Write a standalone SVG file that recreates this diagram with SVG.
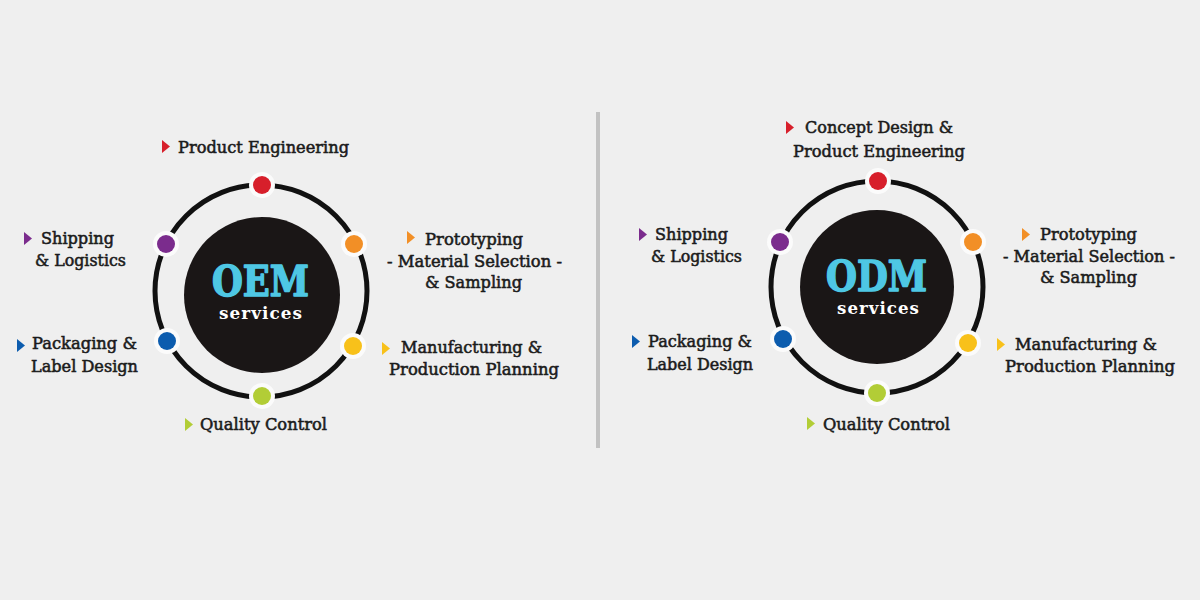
<svg xmlns="http://www.w3.org/2000/svg" width="1200" height="600" viewBox="0 0 1200 600">
<style>
.lbl{font-family:"DejaVu Serif","Liberation Serif",serif;font-size:16.5px;fill:#1b1b1b;stroke:#1b1b1b;stroke-width:0.55px;}
.ttl{font-family:"DejaVu Serif","Liberation Serif",serif;font-weight:bold;font-size:43px;fill:#4ec7e4;stroke:#4ec7e4;stroke-width:1.6px;stroke-linejoin:round;}
.sub{font-family:"DejaVu Serif","Liberation Serif",serif;font-weight:bold;font-size:16px;fill:#ffffff;letter-spacing:1px;}
.ring{fill:none;stroke:#111;stroke-width:5;}
.core{fill:#1a1616;}
.halo{fill:#fbfbfb;}
</style>
<rect width="1200" height="600" fill="#efefef"/>
<g id="connectors">
<line x1="598" y1="112" x2="598" y2="448" stroke="#c2c2c2" stroke-width="4"/>
</g>
<g id="oem-hub">
<circle class="ring" cx="261" cy="291" r="106"/>
<circle class="core" cx="262" cy="295" r="78"/>
<text class="ttl" x="212" y="296" textLength="97" lengthAdjust="spacingAndGlyphs">OEM</text>
<text class="sub" x="219" y="319" textLength="84" lengthAdjust="spacingAndGlyphs">services</text>
</g>
<g id="oem-dots">
<circle class="halo" cx="262" cy="185" r="13"/><circle cx="262" cy="185" r="9" fill="#d71f2b"/>
<circle class="halo" cx="354" cy="244" r="13"/><circle cx="354" cy="244" r="9" fill="#f28f26"/>
<circle class="halo" cx="166" cy="244" r="13"/><circle cx="166" cy="244" r="9" fill="#7b2c8d"/>
<circle class="halo" cx="167" cy="341" r="13"/><circle cx="167" cy="341" r="9" fill="#0c5cae"/>
<circle class="halo" cx="353" cy="346" r="13"/><circle cx="353" cy="346" r="9" fill="#f8c11a"/>
<circle class="halo" cx="262" cy="396" r="13"/><circle cx="262" cy="396" r="9" fill="#b2cd36"/>
</g>
<g id="oem-product-engineering">
<polygon points="162,140 170,146.5 162,153" fill="#d71f2b"/>
<text class="lbl" x="178" y="153" textLength="171" lengthAdjust="spacingAndGlyphs">Product Engineering</text>
</g>
<g id="oem-shipping">
<polygon points="24,232 32,238.5 24,245" fill="#7b2c8d"/>
<text class="lbl" x="41" y="244" textLength="73" lengthAdjust="spacingAndGlyphs">Shipping</text>
<text class="lbl" x="35" y="266" textLength="91" lengthAdjust="spacingAndGlyphs">&amp; Logistics</text>
</g>
<g id="oem-packaging">
<polygon points="17,339 25,345.5 17,352" fill="#0c5cae"/>
<text class="lbl" x="32" y="349" textLength="105" lengthAdjust="spacingAndGlyphs">Packaging &amp;</text>
<text class="lbl" x="31" y="372" textLength="107" lengthAdjust="spacingAndGlyphs">Label Design</text>
</g>
<g id="oem-quality">
<polygon points="185,418 193,424.5 185,431" fill="#b2cd36"/>
<text class="lbl" x="200" y="430" textLength="127" lengthAdjust="spacingAndGlyphs">Quality Control</text>
</g>
<g id="oem-prototyping">
<polygon points="407,231 415,237.5 407,244" fill="#f28f26"/>
<text class="lbl" x="425" y="245" textLength="98" lengthAdjust="spacingAndGlyphs">Prototyping</text>
<text class="lbl" x="387" y="267" textLength="175" lengthAdjust="spacingAndGlyphs">- Material Selection -</text>
<text class="lbl" x="425" y="288" textLength="97" lengthAdjust="spacingAndGlyphs">&amp; Sampling</text>
</g>
<g id="oem-manufacturing">
<polygon points="382,342 390,348.5 382,355" fill="#f8c11a"/>
<text class="lbl" x="401" y="353" textLength="141" lengthAdjust="spacingAndGlyphs">Manufacturing &amp;</text>
<text class="lbl" x="389" y="375" textLength="170" lengthAdjust="spacingAndGlyphs">Production Planning</text>
</g>
<g id="odm-hub">
<circle class="ring" cx="877" cy="287" r="106"/>
<circle class="core" cx="877" cy="287" r="77"/>
<text class="ttl" x="826" y="291" textLength="101" lengthAdjust="spacingAndGlyphs">ODM</text>
<text class="sub" x="837" y="314" textLength="83" lengthAdjust="spacingAndGlyphs">services</text>
</g>
<g id="odm-dots">
<circle class="halo" cx="878" cy="181" r="13"/><circle cx="878" cy="181" r="9" fill="#d71f2b"/>
<circle class="halo" cx="973" cy="242" r="13"/><circle cx="973" cy="242" r="9" fill="#f28f26"/>
<circle class="halo" cx="780" cy="242" r="13"/><circle cx="780" cy="242" r="9" fill="#7b2c8d"/>
<circle class="halo" cx="783" cy="339" r="13"/><circle cx="783" cy="339" r="9" fill="#0c5cae"/>
<circle class="halo" cx="968" cy="343" r="13"/><circle cx="968" cy="343" r="9" fill="#f8c11a"/>
<circle class="halo" cx="877" cy="393" r="13"/><circle cx="877" cy="393" r="9" fill="#b2cd36"/>
</g>
<g id="odm-concept">
<polygon points="786,121 794,127.5 786,134" fill="#d71f2b"/>
<text class="lbl" x="805" y="133" textLength="148" lengthAdjust="spacingAndGlyphs">Concept Design &amp;</text>
<text class="lbl" x="793" y="157" textLength="172" lengthAdjust="spacingAndGlyphs">Product Engineering</text>
</g>
<g id="odm-shipping">
<polygon points="639,228 647,234.5 639,241" fill="#7b2c8d"/>
<text class="lbl" x="655" y="240" textLength="73" lengthAdjust="spacingAndGlyphs">Shipping</text>
<text class="lbl" x="651" y="262" textLength="91" lengthAdjust="spacingAndGlyphs">&amp; Logistics</text>
</g>
<g id="odm-packaging">
<polygon points="632,335 640,341.5 632,348" fill="#0c5cae"/>
<text class="lbl" x="648" y="347" textLength="104" lengthAdjust="spacingAndGlyphs">Packaging &amp;</text>
<text class="lbl" x="647" y="370" textLength="106" lengthAdjust="spacingAndGlyphs">Label Design</text>
</g>
<g id="odm-quality">
<polygon points="807,417 815,423.5 807,430" fill="#b2cd36"/>
<text class="lbl" x="823" y="430" textLength="127" lengthAdjust="spacingAndGlyphs">Quality Control</text>
</g>
<g id="odm-prototyping">
<polygon points="1022,228 1030,234.5 1022,241" fill="#f28f26"/>
<text class="lbl" x="1040" y="240" textLength="97" lengthAdjust="spacingAndGlyphs">Prototyping</text>
<text class="lbl" x="1003" y="262" textLength="172" lengthAdjust="spacingAndGlyphs">- Material Selection -</text>
<text class="lbl" x="1040" y="283" textLength="97" lengthAdjust="spacingAndGlyphs">&amp; Sampling</text>
</g>
<g id="odm-manufacturing">
<polygon points="997,338 1005,344.5 997,351" fill="#f8c11a"/>
<text class="lbl" x="1015" y="350" textLength="142" lengthAdjust="spacingAndGlyphs">Manufacturing &amp;</text>
<text class="lbl" x="1005" y="372" textLength="170" lengthAdjust="spacingAndGlyphs">Production Planning</text>
</g>
</svg>
